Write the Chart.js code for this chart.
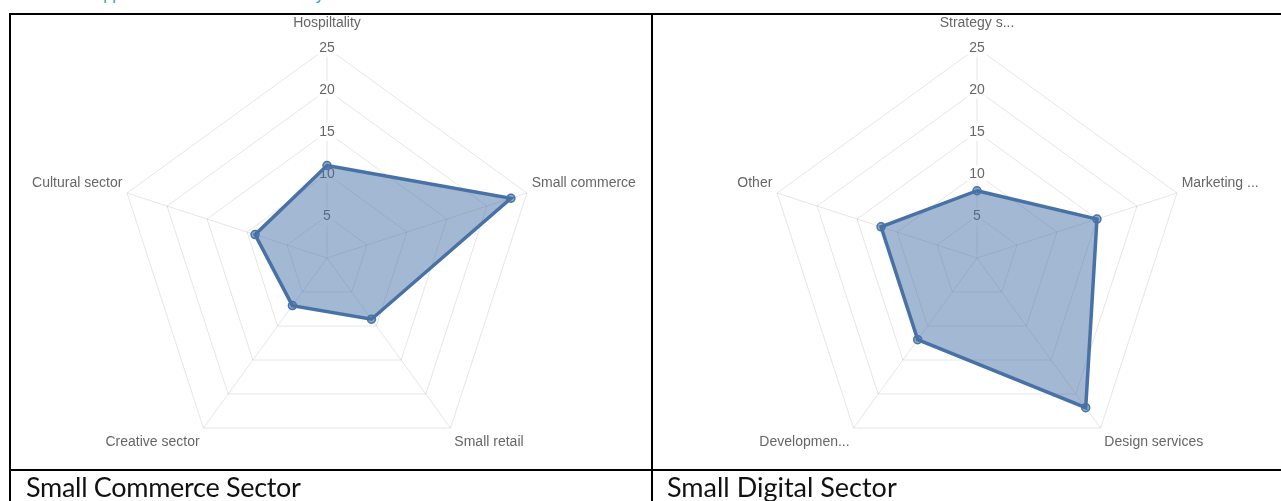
<!DOCTYPE html>
<html>
<head>
<meta charset="utf-8">
<script src="https://cdn.jsdelivr.net/npm/chart.js@4/dist/chart.umd.min.js"></script>
<style>
  html, body { margin: 0; padding: 0; background: #fff; }
  body { width: 1281px; height: 501px; overflow: hidden; position: relative; }
  .rule { position: absolute; background: #000; }
  .caption {
    position: absolute; top: 470px; font-family: Lato, "Open Sans", sans-serif;
    font-size: 27px; color: #111; white-space: nowrap;
  }
  .heading {
    position: absolute; left: 33px; top: -13px; font-family: "Liberation Sans", Arial, sans-serif;
    font-size: 16px; line-height: 16px; color: #1fa3b4; white-space: nowrap;
  }
  canvas { position: absolute; }
</style>
</head>
<body>
<div class="heading">Table 3: Applications from each sector by sub-sector</div>

<canvas id="commerce" width="700" height="487" style="left:-23px; top:4px;"></canvas>
<canvas id="digital" width="700" height="487" style="left:627px; top:4px;"></canvas>

<div class="rule" style="left:9px; top:13px; width:1280px; height:2px;"></div>
<div class="rule" style="left:9px; top:13px; width:2px; height:490px;"></div>
<div class="rule" style="left:651px; top:13px; width:2px; height:490px;"></div>
<div class="rule" style="left:9px; top:469px; width:1280px; height:2px;"></div>

<div class="caption" style="left:26px; letter-spacing:-0.3px;">Small Commerce Sector</div>
<div class="caption" style="left:667px;">Small Digital Sector</div>

<script>
// commerce sector split
const commerceLabels = ['Hospiltality', 'Small commerce', 'Small retail', 'Creative sector', 'Cultural sector'];
const commerceValues = [11, 23, 9, 7, 9];

// digital sector split
const digitalLabels = ['Strategy s...', 'Marketing ...', 'Design services', 'Developmen...', 'Other'];
const digitalValues = [8, 15, 22, 12, 12];

const axisMax = 25;
const axisStep = 5;

// label gap per spoke: top label sits further out, sides/bottom tuck in closer
const labelGap = [7, -4, -2.5, -2.5, -4];

const lineColor = 'rgb(72, 114, 166)';
const fillColor = 'rgba(72, 114, 166, 0.5)';

function radar(id, labels, values) {
  return new Chart(document.getElementById(id), {
    type: 'radar',
    data: {
      labels,
      datasets: [{
        data: values,
        borderColor: lineColor,
        backgroundColor: fillColor,
        borderWidth: 3.5,
        pointRadius: 4,
        pointBorderWidth: 1.5,
        pointBorderColor: lineColor,
        pointBackgroundColor: 'rgba(72, 114, 166, 0.6)',
        fill: true,
      }],
    },
    options: {
      responsive: false,
      animation: false,
      plugins: { legend: { display: false }, tooltip: { enabled: false } },
      scales: {
        r: {
          min: 0,
          max: axisMax,
          ticks: {
            stepSize: axisStep,
            color: '#666',
            font: { family: 'Liberation Sans', size: 14 },
          },
          pointLabels: {
            color: '#666',
            padding: (ctx) => labelGap[ctx.index],
            font: { family: 'Liberation Sans', size: 14 },
          },
          grid: { color: 'rgba(0,0,0,0.1)' },
          angleLines: { color: 'rgba(0,0,0,0.1)' },
        },
      },
    },
  });
}

radar('commerce', commerceLabels, commerceValues);
radar('digital', digitalLabels, digitalValues);
</script>
</body>
</html>
